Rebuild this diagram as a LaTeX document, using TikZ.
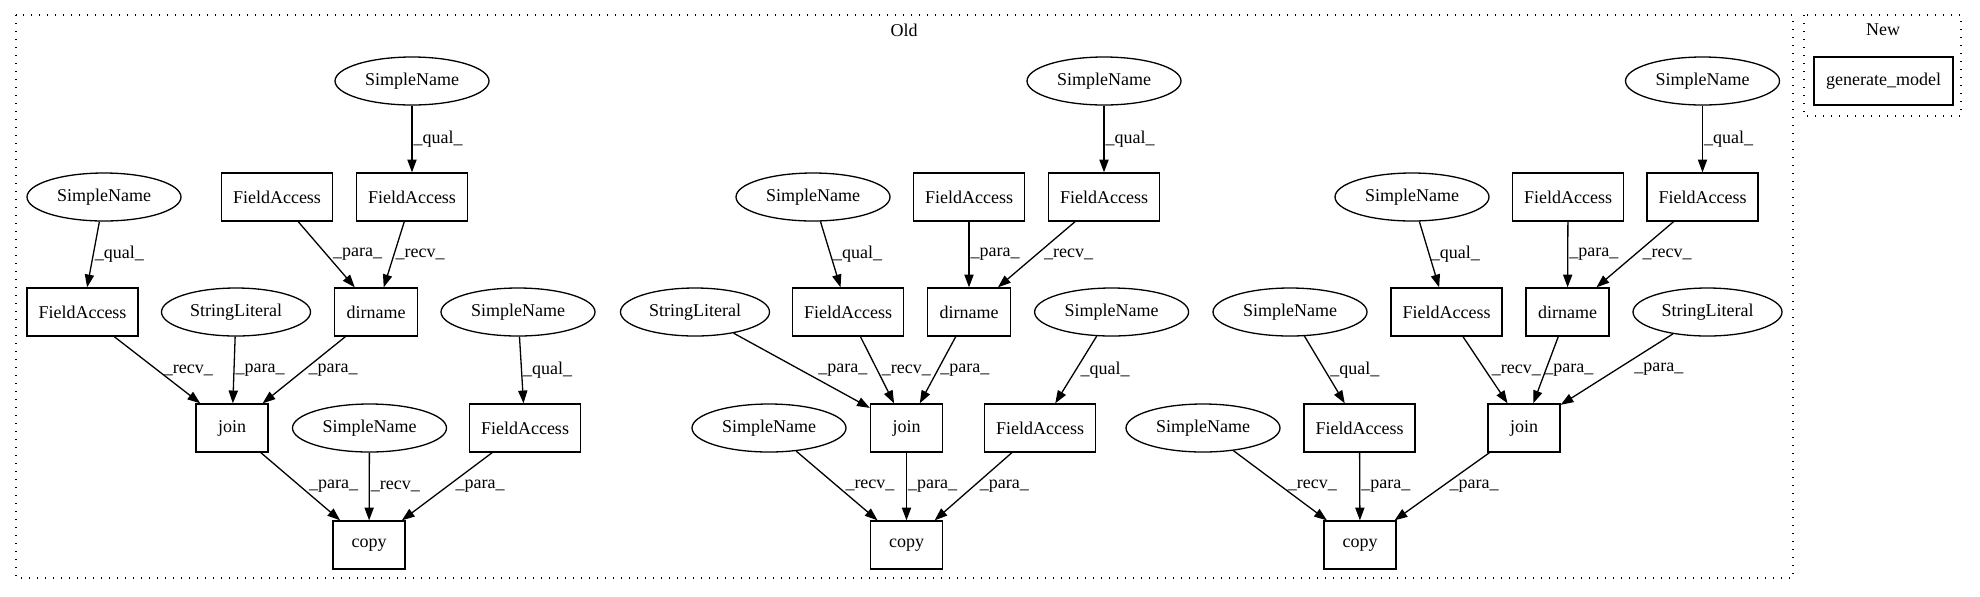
\documentclass[tikz,border=0pt]{standalone}
\usepackage{fontspec}
\setmainfont{Liberation Serif}
\usetikzlibrary{shapes.geometric,arrows.meta}

\begin{document}
\begin{tikzpicture}[x=0.5pt, y=-0.5pt, line width=0.65pt,
    every node/.style={font=\fontsize{9}{11}\selectfont},
    box/.style={draw, rectangle, minimum height=24pt, inner sep=0pt},
    fa/.style={box, minimum width=55.5pt},
    dir/.style={box, minimum width=41.5pt},
    call/.style={box, minimum width=36pt},
    oval/.style={draw, ellipse, minimum width=77pt, minimum height=24pt, inner sep=0pt},
    lit/.style={oval, minimum width=74.5pt},
    flow/.style={-{Triangle[length=6.4pt, width=4.6pt]}},
    lbl/.style={anchor=west, inner sep=0.5pt, pos=0.5},
    cluster/.style={dash pattern=on 0.7pt off 3.3pt}]
      \useasboundingbox (0, 0) rectangle (1980, 596);
      \draw[cluster] (16, 15) rectangle (1793, 578);
      \draw[cluster] (1804, 15) rectangle (1961, 116);
      \node (oldTitle) at (904, 30) {Old};
      \node (newTitle) at (1883, 30) {New};
      \node[box, minimum width=69.5pt] (gen) at (1883.5, 81) {generate\_model};

      \node[oval] (topA) at (412, 81) {SimpleName};
      \node[fa] (fpA) at (277, 197) {FieldAccess};
      \node[fa] (frA) at (412, 197) {FieldAccess};
      \node[oval] (snjA) at (104, 197) {SimpleName};
      \node[fa] (fjA) at (82.5, 312) {FieldAccess};
      \node[lit] (strA) at (236, 312) {StringLiteral};
      \node[dir] (dirA) at (376, 312) {dirname};
      \node[oval] (sncA) at (518, 312) {SimpleName};
      \node[call] (joinA) at (232, 428) {join};
      \node[oval] (srA) at (369.5, 428) {SimpleName};
      \node[fa] (fcA) at (525, 428) {FieldAccess};
      \node[call] (copyA) at (369, 545) {copy};

      \node[oval] (topB) at (1104, 81) {SimpleName};
      \node[oval] (snjB) at (813, 197) {SimpleName};
      \node[fa] (fpB) at (969, 197) {FieldAccess};
      \node[fa] (frB) at (1104, 197) {FieldAccess};
      \node[lit] (strB) at (695, 312) {StringLiteral};
      \node[fa] (fjB) at (848, 312) {FieldAccess};
      \node[dir] (dirB) at (969, 312) {dirname};
      \node[oval] (sncB) at (1111.6, 312) {SimpleName};
      \node[oval] (srB) at (769, 428) {SimpleName};
      \node[call] (joinB) at (906.5, 428) {join};
      \node[fa] (fcB) at (1040, 428) {FieldAccess};
      \node[call] (copyB) at (906.5, 545) {copy};

      \node[oval] (topC) at (1702.5, 81) {SimpleName};
      \node[oval] (snjC) at (1412, 197) {SimpleName};
      \node[fa] (fpC) at (1568, 197) {FieldAccess};
      \node[fa] (frC) at (1702.5, 197) {FieldAccess};
      \node[oval] (sncC) at (1290, 312) {SimpleName};
      \node[fa] (fjC) at (1446.5, 312) {FieldAccess};
      \node[dir] (dirC) at (1567.5, 312) {dirname};
      \node[lit] (strC) at (1707.5, 312) {StringLiteral};
      \node[oval] (srC) at (1203, 428) {SimpleName};
      \node[fa] (fcC) at (1359.5, 428) {FieldAccess};
      \node[call] (joinC) at (1524, 428) {join};
      \node[call] (copyC) at (1360, 545) {copy};

      \draw[flow] (topA) -- (frA) node[lbl] {\_qual\_};
      \draw[flow] (snjA) -- (fjA) node[lbl] {\_qual\_};
      \draw[flow] (fpA) -- (dirA) node[lbl, xshift=2.5pt] {\_para\_};
      \draw[flow] (frA) -- (dirA) node[lbl] {\_recv\_};
      \draw[flow] (fjA) -- (joinA) node[lbl, xshift=2.5pt] {\_recv\_};
      \draw[flow] (strA) -- (joinA) node[lbl] {\_para\_};
      \draw[flow] (dirA) -- (joinA) node[lbl, xshift=1.5pt] {\_para\_};
      \draw[flow] (sncA) -- (fcA) node[lbl] {\_qual\_};
      \draw[flow] (joinA) -- (copyA) node[lbl, xshift=3.5pt] {\_para\_};
      \draw[flow] (srA) -- (copyA) node[lbl] {\_recv\_};
      \draw[flow] (fcA) -- (copyA) node[lbl, xshift=3.5pt] {\_para\_};

      \draw[flow] (topB) -- (frB) node[lbl] {\_qual\_};
      \draw[flow] (snjB) -- (fjB) node[lbl, xshift=0.5pt] {\_qual\_};
      \draw[flow] (fpB) -- (dirB) node[lbl] {\_para\_};
      \draw[flow] (frB) -- (dirB) node[lbl, xshift=3pt] {\_recv\_};
      \draw[flow] (strB) -- (joinB) node[lbl, xshift=7.5pt] {\_para\_};
      \draw[flow] (fjB) -- (joinB) node[lbl, xshift=1.5pt] {\_recv\_};
      \draw[flow] (dirB) -- (joinB) node[lbl, xshift=0.5pt] {\_para\_};
      \draw[flow] (sncB) -- (fcB) node[lbl, xshift=1.5pt] {\_qual\_};
      \draw[flow] (srB) -- (copyB) node[lbl, xshift=3.5pt] {\_recv\_};
      \draw[flow] (joinB) -- (copyB) node[lbl] {\_para\_};
      \draw[flow] (fcB) -- (copyB) node[lbl, xshift=2.5pt] {\_para\_};

      \draw[flow] (topC) -- (frC) node[lbl] {\_qual\_};
      \draw[flow] (snjC) -- (fjC) node[lbl] {\_qual\_};
      \draw[flow] (fpC) -- (dirC) node[lbl] {\_para\_};
      \draw[flow] (frC) -- (dirC) node[lbl, xshift=3pt] {\_recv\_};
      \draw[flow] (fjC) -- (joinC) node[lbl, xshift=2.5pt] {\_recv\_};
      \draw[flow] (dirC) -- (joinC) node[lbl, xshift=-1.5pt] {\_para\_};
      \draw[flow] (strC) -- (joinC) node[lbl, xshift=8pt] {\_para\_};
      \draw[flow] (sncC) -- (fcC) node[lbl, xshift=2pt] {\_qual\_};
      \draw[flow] (srC) -- (copyC) node[lbl, xshift=3pt] {\_recv\_};
      \draw[flow] (fcC) -- (copyC) node[lbl] {\_para\_};
      \draw[flow] (joinC) -- (copyC) node[lbl, xshift=3pt] {\_para\_};
    \end{tikzpicture}
\end{document}
